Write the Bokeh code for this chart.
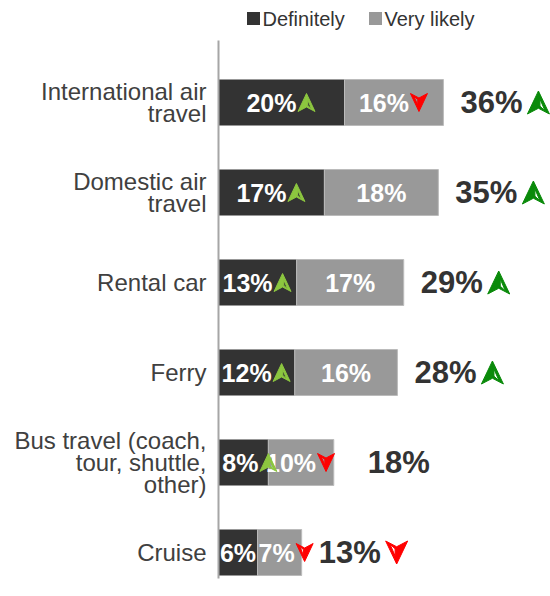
from bokeh.plotting import figure
from bokeh.models import Range1d, ColumnDataSource
from bokeh.core.properties import value
from bokeh.embed import file_html
from bokeh.resources import INLINE

# ---- data ----
categories = ["International air\ntravel", "Domestic air\ntravel", "Rental car",
              "Ferry", "Bus travel (coach,\ntour, shuttle,\nother)", "Cruise"]
definitely = [20.0, 16.8, 12.4, 12.1, 7.9, 6.2]
very_likely = [15.7, 18.1, 17.0, 16.3, 10.4, 7.0]
def_labels = ["20%", "17%", "13%", "12%", "8%", "6%"]
vl_labels = ["16%", "18%", "17%", "16%", "10%", "7%"]
total_labels = ["36%", "35%", "29%", "28%", "18%", "13%"]
def_trend = ["up", "up", "up", "up", "up", None]
vl_trend = ["down", None, None, None, "down", "down"]
total_trend = ["up", "up", "up", "up", None, "down"]
series_names = ["Definitely", "Very likely"]

DARK = "#333333"
LIGHT = "#999999"
UP_SMALL = "#8cc63f"
UP_BIG = "#0a8a0a"
DOWN = "#ff0000"
FONT = value("Liberation Sans")

W, H = 550, 596
PXX = 6.3          # pixels per percent
AXIS_X = 218       # frame x of zero line
ROW0 = 102         # frame y of first row
ROWSTEP = 90.0


def dx(px):
    return px / PXX


def dy(px):
    return px / ROWSTEP


def xpage(px):
    return (px - AXIS_X) / PXX


def ypage(py):
    return (py - ROW0) / ROWSTEP


p = figure(width=W, height=H, output_backend="svg", toolbar_location=None,
           x_range=Range1d(-AXIS_X / PXX, (W - AXIS_X) / PXX),
           y_range=Range1d((H - ROW0) / ROWSTEP, -ROW0 / ROWSTEP),
           min_border=0, min_border_left=0, min_border_right=0,
           min_border_top=0, min_border_bottom=0)
p.axis.visible = False
p.grid.visible = False
p.outline_line_color = None
p.background_fill_color = "white"

n = len(categories)
idx = list(range(n))
totals = [d + v for d, v in zip(definitely, very_likely)]

src = ColumnDataSource(dict(y=idx, d=definitely, t=totals))
bh = 46 / ROWSTEP
p.hbar(y="y", left=0, right="d", height=bh, source=src, fill_color=DARK, line_color=None)
p.hbar(y="y", left="d", right="t", height=bh, source=src, fill_color=LIGHT,
       line_color="#bbbbbb", line_width=1)

# zero axis line
p.segment(x0=[0], x1=[0], y0=[ypage(40)], y1=[ypage(578)], line_color="#a6a6a6", line_width=2)

# category labels
p.text(x=[xpage(206)] * n, y=idx, text=categories, text_align="right",
       text_baseline="middle", text_font=FONT, text_font_size="24px",
       text_color="#404040", text_line_height=0.83)

# arrows (polygon with a hollow triangle)
arrows = dict(xs=[], ys=[], c=[])


def add_arrow(xc, yc, kind, w, h, color):
    hw, hh = dx(w / 2), dy(h / 2)
    s = -1 if kind == "up" else 1          # direction of tip in data y
    tip = (xc, yc + s * hh)
    lw = (xc - hw, yc - s * hh)
    rw = (xc + hw, yc - s * hh)
    nt = (xc, yc - s * dy(h * 0.25))
    outer = [tip, rw, nt, lw]
    m = 1 if kind == "up" else -1           # hollow on right for up, left for down
    hole = [(xc + m * dx(w * 0.07), yc + s * dy(h * 0.15)),
            (xc + m * dx(w * 0.30), yc - s * dy(h * 0.36)),
            (xc + m * dx(w * 0.07), yc - s * dy(h * 0.16))]
    arrows["xs"].append([[[q[0] for q in outer], [q[0] for q in hole]]])
    arrows["ys"].append([[[q[1] for q in outer], [q[1] for q in hole]]])
    arrows["c"].append(color)


def seg_labels(lefts, rights, labels, trends):
    xs_c, ys_c, t_c = [], [], []
    xs_r, ys_r, t_r = [], [], []
    for i in range(n):
        mid = (lefts[i] + rights[i]) / 2
        if trends[i] is None:
            xs_c.append(mid); ys_c.append(i); t_c.append(labels[i])
        else:
            xs_r.append(mid + dx(15)); ys_r.append(i); t_r.append(labels[i])
            col = UP_SMALL if trends[i] == "up" else DOWN
            add_arrow(mid + dx(25), i, trends[i], 17, 18, col)
    common = dict(text_baseline="middle", text_font=FONT, text_font_size="25px",
                  text_font_style="bold", text_color="white")
    p.text(x=xs_c, y=ys_c, text=t_c, text_align="center", **common)
    p.text(x=xs_r, y=ys_r, text=t_r, text_align="right", **common)


seg_labels([0] * n, definitely, def_labels, def_trend)
seg_labels(definitely, totals, vl_labels, vl_trend)

# totals
tx = []
for i in range(n):
    off = 34 if vl_trend[i] is not None and very_likely[i] < 12 and total_trend[i] is None else 17
    tx.append(totals[i] + dx(off))
    if total_trend[i] is not None:
        col = UP_BIG if total_trend[i] == "up" else DOWN
        add_arrow(totals[i] + dx(off + 78), i, total_trend[i], 22, 23, col)
p.text(x=tx, y=idx, text=total_labels, text_align="left", text_baseline="middle",
       text_font=FONT, text_font_size="31px", text_font_style="bold", text_color="#333333")

p.multi_polygons(xs="xs", ys="ys", source=ColumnDataSource(arrows), fill_color="c",
                 line_color="c", line_width=1)

# legend
ly = ypage(18)
p.scatter(x=[xpage(253), xpage(375)], y=[ly, ly], marker="square", size=13,
          fill_color=[DARK, LIGHT], line_color=None)
p.text(x=[xpage(262), xpage(384)], y=[ly, ly], text=series_names, text_align="left",
       text_baseline="middle", text_font=FONT, text_font_size="20px", text_color="#333333")

open("out.html", "w").write(file_html(p, INLINE))
